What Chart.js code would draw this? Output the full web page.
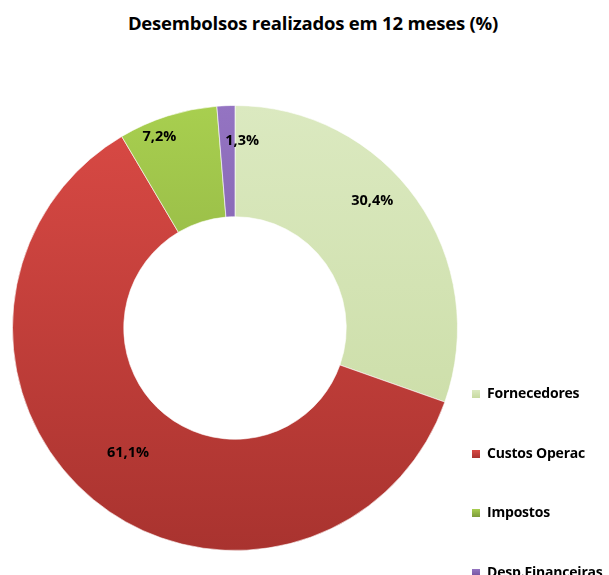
<!DOCTYPE html>
<html lang="pt-BR">
<head>
  <meta charset="UTF-8" />
  <title>Desembolsos realizados em 12 meses</title>
  <script src="https://cdn.jsdelivr.net/npm/chart.js"></script>
  <style>
    body {
      margin: 0;
      background: #ffffff;
      font-family: "Open Sans", "Liberation Sans", sans-serif;
    }
    .wrap {
      position: relative;
      width: 609px;
      height: 575px;
      overflow: hidden;
    }
    .titulo {
      position: absolute;
      top: 10px;
      left: 0;
      width: 626px;
      text-align: center;
      font-weight: bold;
      font-size: 18.5px;
      letter-spacing: -0.2px;
      color: #000;
    }
    canvas {
      position: absolute;
      top: 0;
      left: 0;
    }
    /* legenda no canto inferior direito */
    .legenda {
      position: absolute;
      left: 472px;
      top: 383px;
    }
    .legenda div {
      height: 59.5px;
      font-weight: bold;
      font-size: 14px;
      letter-spacing: -0.2px;
      white-space: nowrap;
      color: #000;
    }
    .legenda span {
      display: inline-block;
      width: 8px;
      height: 8px;
      margin-right: 7px;
      vertical-align: 0px;
    }
  </style>
</head>
<body>
  <div class="wrap">
    <div class="titulo" id="titulo"></div>
    <canvas id="grafico" width="609" height="575"></canvas>
    <div class="legenda" id="legenda"></div>
  </div>

  <script>
    const titulo = "Desembolsos realizados em 12 meses (%)";
    const categorias = ["Fornecedores", "Custos Operac", "Impostos", "Desp.Financeiras"];
    const valores = [30.4, 61.1, 7.2, 1.3];
    const rotulos = ["30,4%", "61,1%", "7,2%", "1,3%"];

    // cores: topo e base do degradê de cada fatia
    const coresTopo = ["#dbe9c0", "#da4a45", "#a8cf4f", "#9474c2"];
    const coresBase = ["#c7daa0", "#a9332f", "#7d9b3b", "#6f4f9a"];

    // deslocamento dos rótulos (px), parecido com o "melhor ajuste" do Excel
    const ajusteRotulo = [[1, -31], [-1, -4], [-25, -32], [14, -20]];

    document.getElementById("titulo").textContent = titulo;

    const legendaDiv = document.getElementById("legenda");
    categorias.forEach((nome, i) => {
      const item = document.createElement("div");
      const quadrado = document.createElement("span");
      quadrado.style.background = `linear-gradient(${coresTopo[i]}, ${coresBase[i]})`;
      item.appendChild(quadrado);
      item.appendChild(document.createTextNode(nome));
      legendaDiv.appendChild(item);
    });

    function degrade(ctx, i) {
      const area = ctx.chart.chartArea;
      if (!area) return coresTopo[i];
      const g = ctx.chart.ctx.createLinearGradient(0, area.top, 0, area.bottom);
      g.addColorStop(0, coresTopo[i]);
      g.addColorStop(1, coresBase[i]);
      return g;
    }

    const rotulosPlugin = {
      id: "rotulos",
      afterDatasetsDraw(chart) {
        const c = chart.ctx;
        const meta = chart.getDatasetMeta(0);
        c.save();
        c.font = "bold 14.5px 'Open Sans', 'Liberation Sans', sans-serif";
        c.fillStyle = "#000";
        c.textAlign = "center";
        c.textBaseline = "middle";
        meta.data.forEach((arc, i) => {
          const p = arc.getCenterPoint();
          c.fillText(rotulos[i], p.x + ajusteRotulo[i][0], p.y + ajusteRotulo[i][1]);
        });
        c.restore();
      }
    };

    new Chart(document.getElementById("grafico"), {
      type: "doughnut",
      data: {
        labels: categorias,
        datasets: [{
          data: valores,
          backgroundColor: ctx => degrade(ctx, ctx.dataIndex),
          borderColor: "rgba(255,255,255,0.6)",
          borderWidth: 1
        }]
      },
      options: {
        responsive: false,
        animation: false,
        cutout: "50%",
        layout: { padding: { left: 12, right: 151, top: 105, bottom: 24 } },
        plugins: {
          legend: { display: false },
          title: { display: false },
          tooltip: { enabled: false }
        }
      },
      plugins: [rotulosPlugin]
    });
  </script>
</body>
</html>
